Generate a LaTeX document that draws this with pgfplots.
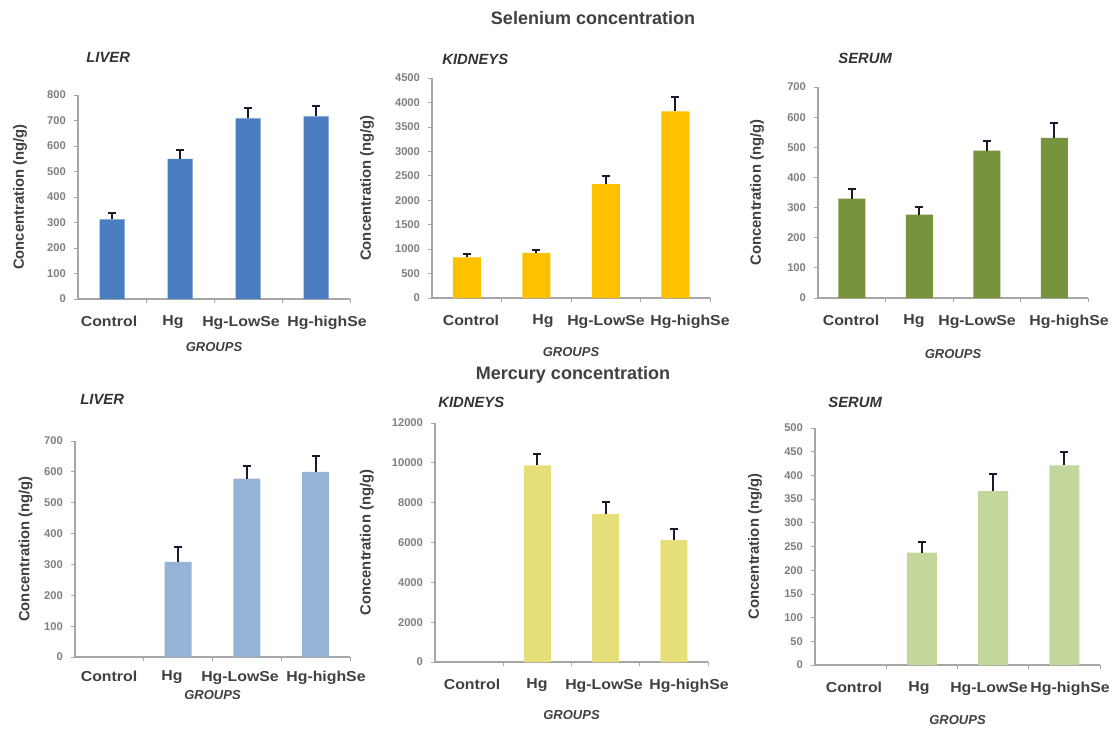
\documentclass[border=0pt]{standalone}
\usepackage{fontspec}
\setmainfont{Liberation Sans}
\newfontfamily\tickfont{Liberation Sans}[FakeStretch=1.1]
\usepackage{pgfplots}
\pgfplotsset{compat=1.18}
\definecolor{axisgray}{HTML}{A6A6A6}
\definecolor{tickgray}{HTML}{7F7F7F}
\definecolor{labgray}{HTML}{404040}
\definecolor{errc}{HTML}{1A1A2E}
\definecolor{cLivSe}{HTML}{4A7EC0}
\definecolor{cKidSe}{HTML}{FFC000}
\definecolor{cSerSe}{HTML}{77933C}
\definecolor{cLivHg}{HTML}{95B3D7}
\definecolor{cKidHg}{HTML}{E6DE78}
\definecolor{cSerHg}{HTML}{C3D69B}
\pgfplotsset{
  panel/.style={
    scale only axis, anchor=south west,
    xmin=0.5, xmax=4.5, ymin=0,
    axis x line*=bottom, axis y line*=left,
    axis line style={draw=axisgray, line width=0.6pt},
    xticklabels={Control,Hg,Hg-LowSe,Hg-highSe},
    xtick style={draw=none},
    extra x ticks={1.5,2.5,3.5,4.5}, extra x tick labels={},
    extra x tick style={xtick style={draw=axisgray, line width=0.4pt}},
    ytick style={draw=axisgray, line width=0.4pt},
    tick align=outside, major tick length=2pt,
    /pgf/number format/assume math mode=true,
    /pgf/number format/1000 sep={},
    yticklabel style={font=\fontsize{5.6}{6}\selectfont\bfseries, text=tickgray, xshift=-0.5pt},
    xticklabel style={font=\tickfont\fontsize{7.2}{8}\selectfont\bfseries, text=labgray, yshift=-3pt},
    xlabel={\textit{GROUPS}},
    xlabel style={font=\fontsize{6.5}{7}\selectfont\bfseries, text=labgray},
    ylabel={Concentration (ng/g)},
    ylabel style={font=\fontsize{7.4}{8}\selectfont\bfseries, text=labgray},
    ybar, bar width=13.5pt,
    every axis plot/.append style={draw=none},
    error bars/y dir=plus, error bars/y explicit,
    error bars/error bar style={draw=errc, line width=1.1pt},
    error bars/error mark options={rotate=90, mark size=2pt, draw=errc, line width=1pt},
  },
  ylabx/.style={ylabel style={at={(axis description cs:-#1,0.5)}, anchor=center}},
  glab/.style={xlabel style={yshift=#1}},
}
\newcommand{\ptitle}[1]{\fontsize{7.4}{8}\selectfont\bfseries\itshape #1}
\begin{document}
\begin{tikzpicture}
\useasboundingbox (0,0) rectangle (558.5pt,365pt);
\node[font=\fontsize{9}{10}\selectfont\bfseries, text=labgray] at (296.5pt,356pt) {Selenium concentration};
\node[font=\fontsize{9}{10}\selectfont\bfseries, text=labgray] at (286.5pt,177.5pt) {Mercury concentration};
\begin{scope}[every node/.style={anchor=west, inner sep=0pt, text=black!80}]
\node at (43pt,336.5pt) {\ptitle{LIVER}};
\node at (221pt,335.5pt) {\ptitle{KIDNEYS}};
\node at (419pt,336pt) {\ptitle{SERUM}};
\node at (40pt,165.5pt) {\ptitle{LIVER}};
\node at (219pt,164pt) {\ptitle{KIDNEYS}};
\node at (414pt,164pt) {\ptitle{SERUM}};
\end{scope}

% Se liver
\begin{axis}[panel, ylabx=0.213, glab=4.5pt, at={(39pt,215.5pt)}, width=136pt, height=102pt,
  xtick={0.956,1.897,2.897,4.162},
  ymax=800, ytick={0,100,...,800}, bar width=12.5pt]
\addplot[fill=cLivSe] coordinates {(1,312) +- (0,27) (2,550) +- (0,33) (3,708) +- (0,40) (4,716) +- (0,40)};
\end{axis}
% Se kidneys
\begin{axis}[panel, ylabx=0.234, glab=1.5pt, at={(216pt,216pt)}, width=139pt, height=110pt,
  xtick={1.061,2.097,3.004,4.212},
  ymax=4500, ytick={0,500,...,4500}, bar width=14pt]
\addplot[fill=cKidSe] coordinates {(1,830) +- (0,65) (2,925) +- (0,60) (3,2330) +- (0,170) (4,3820) +- (0,290)};
\end{axis}
% Se serum
\begin{axis}[panel, ylabx=0.226, glab=0.5pt, at={(409pt,216pt)}, width=135pt, height=105.5pt,
  xtick={0.989,1.922,2.856,4.219},
  ymax=700, ytick={0,100,...,700}]
\addplot[fill=cSerSe] coordinates {(1,330) +- (0,30) (2,277) +- (0,24) (3,489) +- (0,33) (4,531) +- (0,48)};
\end{axis}
% Hg liver
\begin{axis}[panel, ylabx=0.18, glab=8pt, at={(37.5pt,36.5pt)}, width=137.5pt, height=108pt,
  xtick={0.995,1.911,2.9,4.151}, xticklabel style={yshift=1.5pt},
  ymax=700, ytick={0,100,...,700}]
\addplot[fill=cLivHg] coordinates {(2,308) +- (0,50) (3,578) +- (0,40) (4,600) +- (0,52)};
\end{axis}
% Hg kidneys
\begin{axis}[panel, ylabx=0.25, glab=2pt, at={(217.5pt,34pt)}, width=136.5pt, height=119.5pt,
  xtick={1.042,1.995,2.976,4.222},
  ymax=12000, ytick={0,2000,...,12000}, scaled y ticks=false]
\addplot[fill=cKidHg] coordinates {(2,9870) +- (0,580) (3,7420) +- (0,610) (4,6120) +- (0,580)};
\end{axis}
% Hg serum
\begin{axis}[panel, ylabx=0.21, glab=1pt, at={(407.5pt,32.5pt)}, width=142.5pt, height=118.5pt,
  xtick={1.047,1.96,2.942,4.079},
  ymax=500, ytick={0,50,...,500}, bar width=15pt]
\addplot[fill=cSerHg] coordinates {(2,237) +- (0,22) (3,367) +- (0,35) (4,421) +- (0,28)};
\end{axis}
\end{tikzpicture}
\end{document}
